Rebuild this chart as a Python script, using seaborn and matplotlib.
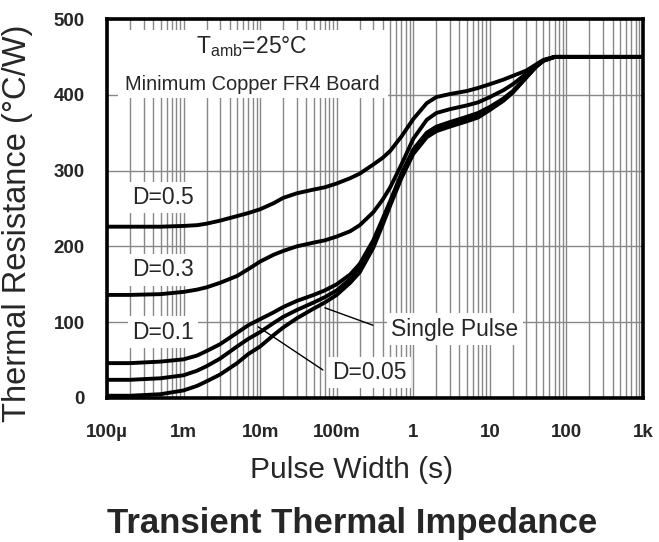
import numpy as np
import pandas as pd
import matplotlib
matplotlib.use("Agg")
import matplotlib.pyplot as plt
import seaborn as sns
from matplotlib.patches import Rectangle
from matplotlib.ticker import LogLocator, FixedLocator, NullFormatter, FixedFormatter

# ---- data ----
pulse_width = [1e-4, 2e-4, 5e-4, 1e-3, 1.5e-3, 2e-3, 3e-3, 5e-3, 7e-3, 1e-2, 1.5e-2, 2e-2,
               3e-2, 5e-2, 7e-2, 0.1, 0.15, 0.2, 0.3, 0.4, 0.5, 0.7, 1, 1.5, 2, 3, 5, 7,
               10, 15, 20, 30, 40, 50, 70, 100, 1000]
r_d050 = [226, 226, 226, 227, 228, 230, 234, 240, 244, 249, 257, 264,
          270, 275, 278, 283, 290, 296, 308, 317, 326, 345, 368, 389, 397, 401, 405, 409,
          414, 420, 425, 432, 440, 446, 450, 450, 450]
r_d030 = [136, 136, 137, 140, 143, 146, 152, 161, 170, 180, 189, 194,
          200, 205, 208, 213, 220, 228, 245, 262, 278, 308, 342, 367, 376, 381, 386, 390,
          397, 406, 414, 428, 438, 445, 450, 450, 450]
r_d010 = [46, 46, 48, 51, 56, 62, 71, 86, 96, 104, 113, 120,
          128, 136, 142, 150, 163, 177, 208, 237, 260, 296, 328, 350, 358, 364, 371, 376,
          384, 395, 405, 424, 437, 445, 450, 450, 450]
r_d005 = [24, 24, 26, 30, 36, 42, 52, 68, 78, 87, 99, 107,
          116, 126, 133, 142, 157, 171, 203, 233, 257, 293, 325, 347, 355, 361, 368, 373,
          382, 394, 404, 423, 437, 445, 450, 450, 450]
r_single = [3, 3, 5, 10, 16, 22, 31, 46, 58, 68, 83, 93,
            105, 118, 126, 136, 152, 166, 198, 229, 254, 290, 322, 344, 352, 358, 365, 370,
            380, 392, 403, 423, 437, 445, 450, 450, 450]

x_ticks = [1e-4, 1e-3, 1e-2, 1e-1, 1, 10, 100, 1000]
x_tick_labels = ["100µ", "1m", "10m", "100m", "1", "10", "100", "1k"]
y_ticks = [0, 100, 200, 300, 400, 500]

curves = {"D=0.5": r_d050, "D=0.3": r_d030, "D=0.1": r_d010,
          "D=0.05": r_d005, "Single Pulse": r_single}
df = pd.concat([pd.DataFrame({"t": pulse_width, "R": v, "curve": k})
                for k, v in curves.items()], ignore_index=True)

sns.set_style("white")
plt.rcParams["font.family"] = ["Liberation Sans", "DejaVu Sans"]

fig = plt.figure(figsize=(6.59, 5.42), dpi=100)
ax = fig.add_axes([107/659, 1-398/542, (643-107)/659, (398-19)/542])

for name in curves:
    sns.lineplot(data=df[df["curve"] == name], x="t", y="R", ax=ax,
                 color="black", linewidth=2.8, estimator=None, sort=False,
                 legend=False, zorder=3)

ax.set_xscale("log")
ax.set_xlim(1e-4, 1e3)
ax.set_ylim(0, 500)
ax.xaxis.set_major_locator(FixedLocator(x_ticks))
ax.xaxis.set_major_formatter(FixedFormatter(x_tick_labels))
ax.xaxis.set_minor_locator(LogLocator(base=10, subs=np.arange(2, 10)))
ax.xaxis.set_minor_formatter(NullFormatter())
ax.set_yticks(y_ticks)

ax.grid(which="both", axis="x", color="#888888", linewidth=1.0, zorder=0)
ax.grid(which="major", axis="y", color="#888888", linewidth=1.0, zorder=0)
ax.set_axisbelow(True)

for s in ax.spines.values():
    s.set_color("black")
    s.set_linewidth(2.6)
    s.set_zorder(5)

ax.tick_params(axis="both", which="both", length=0)
ax.tick_params(axis="x", pad=19)
ax.tick_params(axis="y", pad=16)
for lab in ax.get_xticklabels() + ax.get_yticklabels():
    lab.set_fontweight("bold")
    lab.set_fontsize(13.5)

ax.set_xlabel("")
ax.set_ylabel("")
fig.text(352/659, 1-470/542, "Pulse Width (s)", ha="center", va="center", fontsize=21.5)
fig.text(18/659, 1-223/542, "Thermal Resistance (°C/W)", ha="center", va="center",
         rotation=90, fontsize=23.5)
fig.text(352/659, 1-523/542, "Transient Thermal Impedance", ha="center", va="center",
         fontsize=25, fontweight="bold",
         family=["Liberation Sans Narrow", "Liberation Sans", "DejaVu Sans"])

# white header box behind the two header lines
ax.add_patch(Rectangle((1.39e-4, 396), 0.466 - 1.39e-4, 485 - 396,
                       facecolor="white", edgecolor="none", zorder=2))
ax.text(7.8e-3, 464, r"T$_{\mathregular{amb}}$=25°C", ha="center", va="center",
        fontsize=16.5, zorder=4)
ax.text(7.8e-3, 413, "Minimum Copper FR4 Board", ha="center", va="center",
        fontsize=14.4, zorder=4)

box = dict(facecolor="white", edgecolor="none", pad=3)
ax.text(5.4e-4, 265, "D=0.5", ha="center", va="center", fontsize=16.5, zorder=4, bbox=box)
ax.text(5.4e-4, 169, "D=0.3", ha="center", va="center", fontsize=16.5, zorder=4, bbox=box)
ax.text(5.4e-4, 87, "D=0.1", ha="center", va="center", fontsize=16.5, zorder=4, bbox=box)
ax.text(3.5, 91, "Single Pulse", ha="center", va="center", fontsize=16.5, zorder=4, bbox=box)
ax.text(0.27, 34, "D=0.05", ha="center", va="center", fontsize=16.5, zorder=4, bbox=box)

ax.plot([0.297, 0.070], [96, 119], color="black", linewidth=1.0, zorder=4)
ax.plot([0.066, 9.4e-3], [37, 94], color="black", linewidth=1.0, zorder=4)

fig.savefig("out.png", dpi=100)
